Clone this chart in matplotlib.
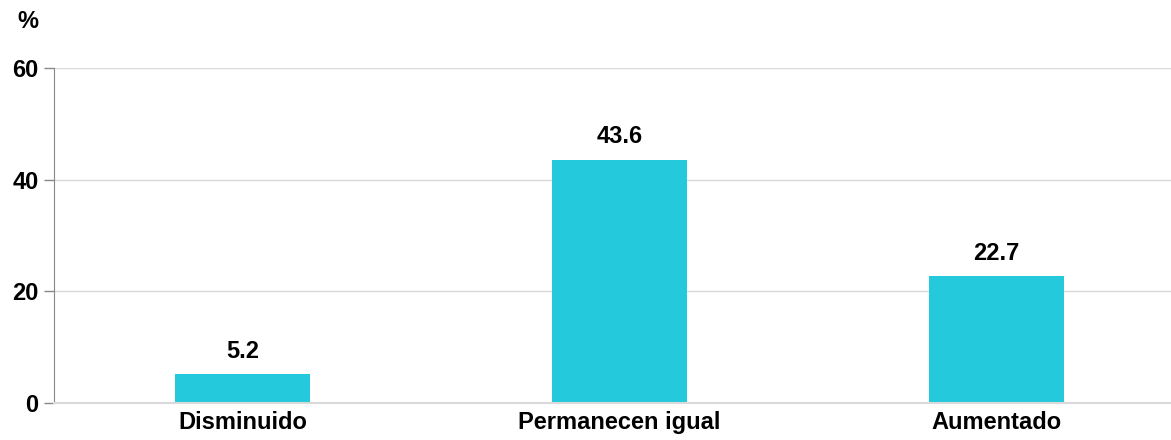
import matplotlib.pyplot as plt

# datos
categorias = ['Disminuido', 'Permanecen igual', 'Aumentado']
valores = [5.2, 43.6, 22.7]
ticks_y = [0, 20, 40, 60]

plt.rcParams['font.family'] = ['Liberation Sans', 'DejaVu Sans']

fig = plt.figure(figsize=(11.71, 4.40), dpi=100)
ax = fig.add_axes([54 / 1171, 37 / 440, 1 - 54 / 1171, 335 / 440])

pos = list(range(len(categorias)))
ax.bar(pos, valores, width=0.358, color='#24cadb', zorder=3)

for x, v in zip(pos, valores):
    ax.text(x, v + 2.0, f'{v:.1f}', ha='center', va='bottom',
            fontsize=17, fontweight='bold', color='black')

ax.set_xlim(-0.5, -0.5 + 1117 / 377)
ax.set_ylim(0, 60)
ax.set_yticks(ticks_y)
ax.set_yticklabels([str(t) for t in ticks_y], fontsize=17, fontweight='bold')
ax.set_xticks(pos)
ax.set_xticklabels(categorias, fontsize=17, fontweight='bold')

ax.grid(axis='y', color='#d9d9d9', linewidth=1, zorder=0)
ax.axhline(0, color='#d9d9d9', linewidth=1.5, zorder=4, clip_on=False)
ax.tick_params(axis='x', length=0, pad=6)
ax.tick_params(axis='y', length=7, color='#888888', width=1, pad=4)

for s in ['top', 'right', 'bottom']:
    ax.spines[s].set_visible(False)
ax.spines['left'].set_color('#888888')

fig.text(28 / 1171, 1 - 22 / 440, '%', ha='center', va='center',
         fontsize=17, fontweight='bold')

fig.savefig('out.png', dpi=100)
